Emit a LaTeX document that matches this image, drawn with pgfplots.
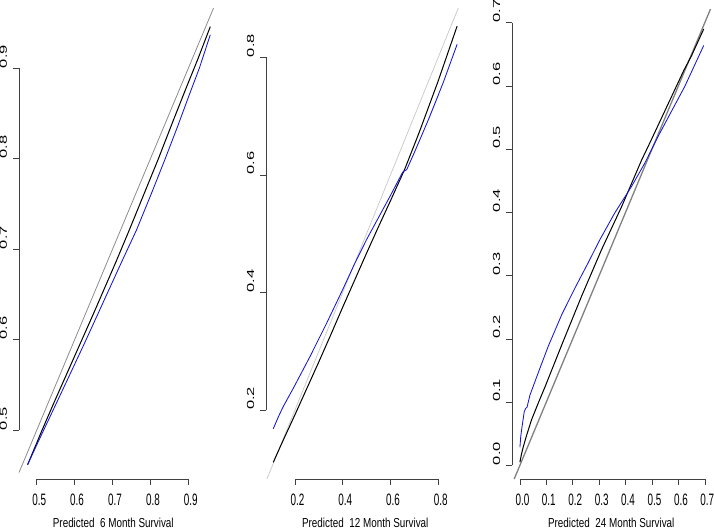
\documentclass[border=0pt]{standalone}
\usepackage{fontspec}
\setmainfont{Liberation Sans}
\usepackage{graphicx}
\usepackage{pgfplots}
\pgfplotsset{compat=1.18}

\definecolor{rblue}{RGB}{20,20,215}
\newcommand\xl[1]{\scalebox{0.6}[1]{#1}}
\newcommand\yl[1]{\rotatebox{90}{\scalebox{1}[0.62]{#1}}}
\newcommand\ttl[1]{\scalebox{0.76}[1]{#1}}
\tikzset{axisline/.style={black!75, line width=0.6pt}}

\pgfplotsset{
  rpanel/.style={
    scale only axis, width=198.5pt, height=471pt, anchor=south west,
    clip=false,
    axis x line*=bottom, axis y line*=left,
    axis line style={draw=none},
    tick align=outside, major tick length=5.7pt,
    tick style={black!75, line width=0.6pt},
    minor tick num=0,
    xticklabel style={font=\fontsize{16.5}{17}\selectfont, inner sep=0pt, anchor=north, yshift=-9pt, xshift=2.5pt},
    yticklabel style={font=\fontsize{16.5}{17}\selectfont, inner sep=0pt, anchor=south east, xshift=-6pt},
    xlabel style={font=\fontsize{13}{14}\selectfont, anchor=base, at={(axis description cs:0.5,0)}, yshift=-48.3pt},
    every axis plot/.append style={line join=round},
  },
}

\begin{document}
\begin{tikzpicture}
\path[use as bounding box] (0,0) rectangle (714pt,532pt);

% 6 months
\begin{axis}[rpanel, at={(19pt,53pt)},
  xmin=0.4533, xmax=0.977, ymin=0.4462, ymax=0.9666,
  xtick={0.5,0.6,0.7,0.8,0.9}, xticklabels={\xl{0.5},\xl{0.6},\xl{0.7},\xl{0.8},\xl{0.9}},
  ytick={0.5,0.6,0.7,0.8,0.9}, yticklabels={\yl{0.5},\yl{0.6},\yl{0.7},\yl{0.8},\yl{0.9}},
  xlabel={\ttl{Predicted~~6 Month Survival}},
  xlabel style={at={(axis description cs:0.475,0)}}]
\addplot[black!45, line width=0.8pt] coordinates {(0.4533,0.4533)(0.9666,0.9666)};
\addplot[black, line width=1pt] coordinates {(0.476,0.462)(0.495,0.481)(0.513,0.499)(0.545,0.530)(0.580,0.563)(0.615,0.596)(0.651,0.630)(0.709,0.686)(0.744,0.721)(0.783,0.761)(0.821,0.800)(0.860,0.842)(0.896,0.880)(0.925,0.910)(0.958,0.946)};
\addplot[rblue, line width=0.85pt] coordinates {(0.476,0.462)(0.497,0.481)(0.517,0.499)(0.552,0.530)(0.589,0.563)(0.627,0.597)(0.663,0.630)(0.724,0.686)(0.763,0.721)(0.802,0.761)(0.839,0.800)(0.872,0.836)(0.902,0.870)(0.929,0.900)(0.958,0.937)};
\draw[axisline] (axis cs:0.5,0.4462) -- (axis cs:0.9,0.4462);
\draw[axisline] (axis cs:0.4533,0.5) -- (axis cs:0.4533,0.9);
\end{axis}

% 12 months
\begin{axis}[rpanel, at={(266pt,53pt)},
  xmin=0.0786, xmax=0.91, ymin=0.0826, ymax=0.8839,
  xtick={0.2,0.4,0.6,0.8}, xticklabels={\xl{0.2},\xl{0.4},\xl{0.6},\xl{0.8}},
  ytick={0.2,0.4,0.6,0.8}, yticklabels={\yl{0.2},\yl{0.4},\yl{0.6},\yl{0.8}},
  xlabel={\ttl{Predicted~~12 Month Survival}}]
\addplot[black!22, line width=0.7pt] coordinates {(0.0826,0.0826)(0.8839,0.8839)};
\addplot[black, line width=1pt] coordinates {(0.109,0.111)(0.15,0.148)(0.2,0.192)(0.25,0.237)(0.3,0.282)(0.35,0.328)(0.4,0.375)(0.45,0.421)(0.5,0.467)(0.55,0.512)(0.6,0.556)(0.66,0.610)(0.72,0.672)(0.8,0.760)(0.879,0.853)};
\addplot[rblue, line width=0.85pt] coordinates {(0.109,0.168)(0.13,0.188)(0.151,0.206)(0.193,0.237)(0.263,0.291)(0.333,0.348)(0.40,0.405)(0.45,0.449)(0.50,0.490)(0.54,0.520)(0.60,0.565)(0.645,0.600)(0.652,0.605)(0.668,0.609)(0.70,0.638)(0.76,0.695)(0.82,0.756)(0.879,0.822)};
\draw[axisline] (axis cs:0.2,0.0826) -- (axis cs:0.8,0.0826);
\draw[axisline] (axis cs:0.0786,0.2) -- (axis cs:0.0786,0.8);
\end{axis}

% 24 months
\begin{axis}[rpanel, at={(512pt,53pt)},
  xmin=-0.030, xmax=0.7216, ymin=-0.0217, ymax=0.7232,
  xtick={0,0.1,0.2,0.3,0.4,0.5,0.6,0.7}, xticklabels={\xl{0.0},\xl{0.1},\xl{0.2},\xl{0.3},\xl{0.4},\xl{0.5},\xl{0.6},\xl{0.7}},
  ytick={0,0.1,0.2,0.3,0.4,0.5,0.6,0.7}, yticklabels={\yl{0.0},\yl{0.1},\yl{0.2},\yl{0.3},\yl{0.4},\yl{0.5},\yl{0.6},\yl{0.7}},
  xlabel={\ttl{Predicted~~24 Month Survival}}]
\addplot[black!50, line width=1.3pt] coordinates {(-0.0217,-0.0217)(0.7216,0.7216)};
\addplot[black, line width=1pt] coordinates {(0,0.005)(0.006,0.018)(0.0126,0.029)(0.025,0.047)(0.044,0.072)(0.07,0.099)(0.095,0.124)(0.158,0.190)(0.233,0.267)(0.309,0.341)(0.385,0.409)(0.46,0.482)(0.5,0.517)(0.574,0.583)(0.62,0.624)(0.65,0.648)(0.696,0.690)};
\addplot[rblue, line width=0.85pt] coordinates {(0,0.0285)(0.003,0.045)(0.0063,0.056)(0.0164,0.085)(0.022,0.090)(0.027,0.092)(0.038,0.111)(0.069,0.146)(0.107,0.188)(0.158,0.238)(0.208,0.280)(0.258,0.320)(0.303,0.357)(0.359,0.399)(0.4226,0.441)(0.473,0.478)(0.523,0.520)(0.574,0.560)(0.624,0.599)(0.696,0.664)};
\draw[axisline] (axis cs:0,-0.0217) -- (axis cs:0.7,-0.0217);
\draw[axisline] (axis cs:-0.030,0) -- (axis cs:-0.030,0.7);
\end{axis}
\end{tikzpicture}
\end{document}
